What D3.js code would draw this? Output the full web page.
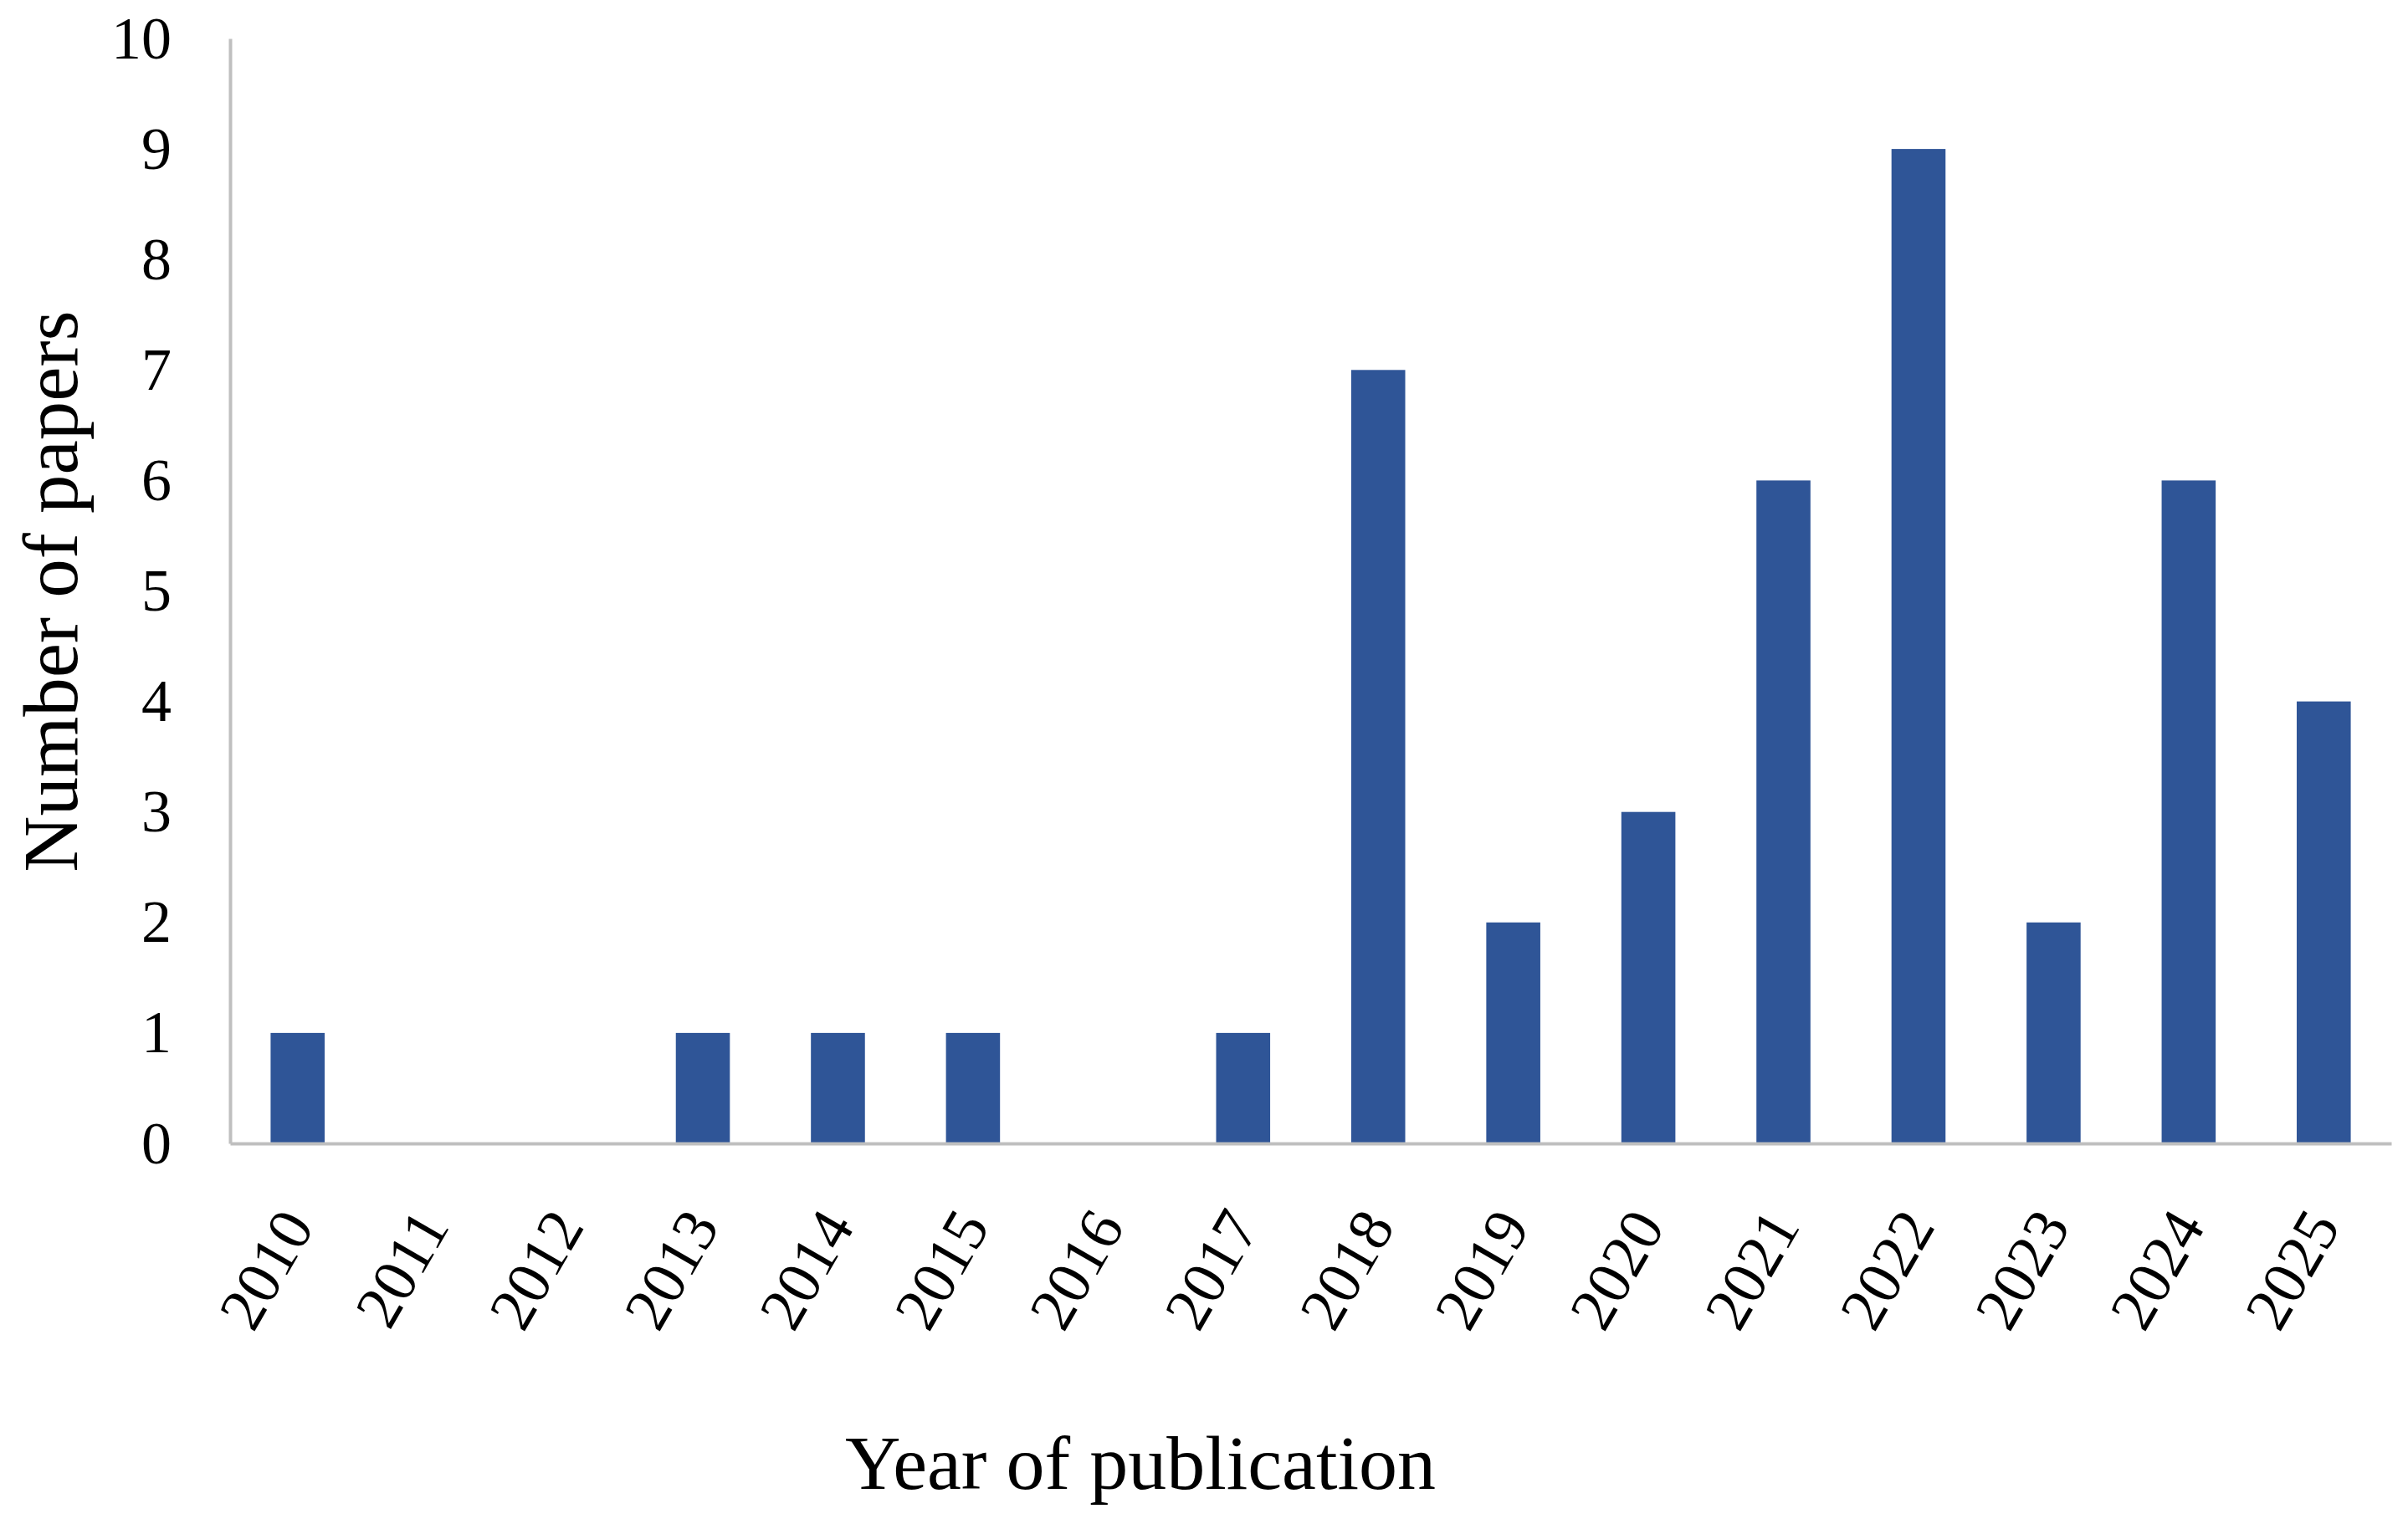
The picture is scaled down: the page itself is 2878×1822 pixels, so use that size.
<!DOCTYPE html>
<html>
<head>
<meta charset="utf-8">
<script src="https://cdn.jsdelivr.net/npm/d3@7"></script>
<style>
  html, body { margin: 0; padding: 0; background: #ffffff; }
  svg { display: block; }
</style>
</head>
<body>
<script>
const years = ["2010","2011","2012","2013","2014","2015","2016","2017","2018","2019","2020","2021","2022","2023","2024","2025"];
const papers = [1, 0, 0, 1, 1, 1, 0, 1, 7, 2, 3, 6, 9, 2, 6, 4];
const yTicks = [0,1,2,3,4,5,6,7,8,9,10];
const xTitle = "Year of publication";
const yTitle = "Number of papers";

(function () {
const W = 2878, H = 1822;
const FONT = "'Palatino Linotype','Book Antiqua',Palatino,'Liberation Serif',serif";
const mLeft = 275, mRight = 2858, mTop = 46, mBottom = 1367;

const svg = d3.select("body").append("svg")
  .attr("width", W).attr("height", H)
  .style("background", "#ffffff");

const x = d3.scaleBand().domain(years).range([mLeft, mRight])
  .paddingInner(0.6).paddingOuter(0.3);
const y = d3.scaleLinear().domain([0, 10]).range([mBottom, mTop]);

// bars
svg.append("g").selectAll("rect")
  .data(years.map((yr, i) => ({ yr, v: papers[i] })))
  .join("rect")
  .attr("x", d => x(d.yr))
  .attr("width", x.bandwidth())
  .attr("y", d => y(d.v))
  .attr("height", d => y(0) - y(d.v))
  .attr("fill", "#2F5597");

// y axis
const yAxis = svg.append("g")
  .attr("transform", `translate(${mLeft},0)`)
  .call(d3.axisLeft(y).tickValues(yTicks).tickSize(0).tickPadding(70).tickFormat(d3.format("d")));
yAxis.select(".domain").attr("stroke", "#bfbfbf").attr("stroke-width", 4);
yAxis.selectAll("text")
  .attr("font-family", FONT).attr("font-size", 72).attr("fill", "#000");

// x axis
const xAxis = svg.append("g")
  .attr("transform", `translate(0,${mBottom})`)
  .call(d3.axisBottom(x).tickSize(0));
xAxis.select(".domain").attr("stroke", "#bfbfbf").attr("stroke-width", 4);
xAxis.selectAll("text")
  .attr("font-family", FONT).attr("font-size", 74).attr("fill", "#000")
  .attr("y", 0).attr("dy", 0)
  .attr("text-anchor", "end")
  .attr("transform", "translate(21,99) rotate(-60)");

// titles
svg.append("text")
  .attr("x", 1363).attr("y", 1780)
  .attr("text-anchor", "middle")
  .attr("font-family", FONT).attr("font-size", 92).attr("fill", "#000")
  .text(xTitle);

svg.append("text")
  .attr("transform", "translate(92,707) rotate(-90)")
  .attr("text-anchor", "middle")
  .attr("font-family", FONT).attr("font-size", 93).attr("fill", "#000")
  .text(yTitle);
})();
</script>
</body>
</html>
